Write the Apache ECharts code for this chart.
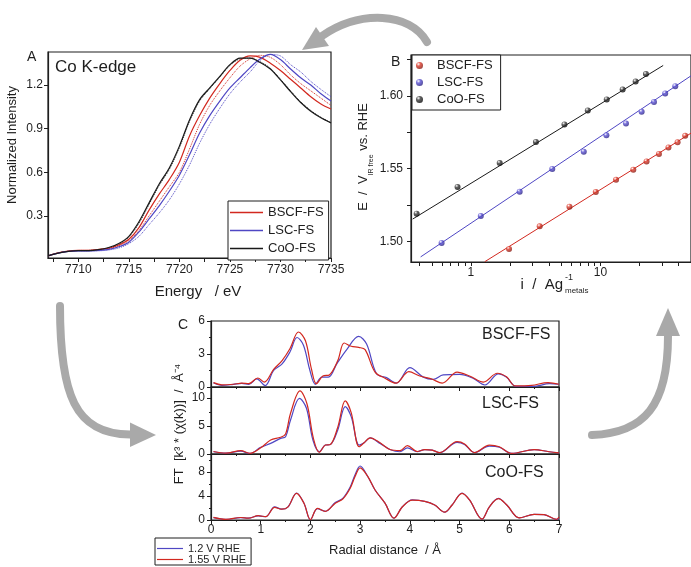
<!DOCTYPE html>
<html>
<head>
<meta charset="utf-8">
<script src="https://cdn.jsdelivr.net/npm/echarts@6/dist/echarts.min.js"></script>
<style>
  html, body { margin: 0; padding: 0; background: #fff; }
  #chart { width: 691px; height: 567px; }
</style>
</head>
<body>
<div id="chart"></div>
<script>
// ---------- Panel A: Co K-edge XANES (solid / dotted = two potentials) ----------
const energy = [7707, 7708, 7709, 7710, 7711, 7712, 7713, 7714, 7715, 7716, 7717, 7718, 7719, 7720,
  7721, 7722, 7723, 7724, 7725, 7726, 7727, 7728, 7729, 7730, 7731, 7732, 7733, 7734, 7735];
const xanesBSCF    = [.026, .046, .058, .063, .064, .070, .078, .100, .140, .220, .340, .450, .550, .670,
  .850, .990, 1.11, 1.21, 1.30, 1.37, 1.40, 1.39, 1.35, 1.30, 1.24, 1.18, 1.12, 1.07, 1.035];
const xanesBSCFdot = [.026, .046, .058, .063, .064, .069, .075, .095, .130, .200, .300, .400, .500, .600,
  .760, .930, 1.06, 1.16, 1.25, 1.33, 1.38, 1.404, 1.39, 1.34, 1.27, 1.21, 1.16, 1.11, 1.06];
const xanesLSC     = [.026, .045, .056, .060, .060, .063, .070, .088, .120, .190, .280, .370, .470, .580,
  .720, .870, .990, 1.09, 1.18, 1.25, 1.32, 1.38, 1.41, 1.375, 1.31, 1.25, 1.20, 1.14, 1.09];
const xanesLSCdot  = [.026, .045, .055, .058, .058, .060, .066, .080, .110, .160, .240, .320, .410, .520,
  .650, .800, .930, 1.04, 1.14, 1.22, 1.29, 1.37, 1.41, 1.40, 1.34, 1.29, 1.225, 1.17, 1.12];
const xanesCoO     = [.026, .045, .057, .062, .062, .068, .083, .110, .160, .260, .390, .520, .630, .780,
  .960, 1.10, 1.18, 1.26, 1.34, 1.385, 1.385, 1.355, 1.31, 1.235, 1.155, 1.08, 1.02, .975, .94];
const xanesCoOdot  = [.026, .045, .057, .062, .062, .067, .080, .105, .155, .250, .380, .510, .620, .770,
  .950, 1.09, 1.175, 1.255, 1.335, 1.38, 1.385, 1.36, 1.315, 1.24, 1.16, 1.085, 1.025, .978, .94];
const energyLabels = [7710, 7715, 7720, 7725, 7730, 7735];
const energyTicks = [7707.5, 7710, 7712.5, 7715, 7717.5, 7720, 7722.5, 7725, 7727.5, 7730, 7732.5, 7735];
const intensityLabels = [0.3, 0.6, 0.9, 1.2];

// ---------- Panel B: Tafel plots ----------
const currentBSCF = [1.972, 3.40, 5.77, 9.21, 13.20, 17.94, 22.7, 28.3, 33.5, 39.4, 45.1];
const potentialBSCF = [1.4948, 1.5103, 1.5238, 1.5339, 1.5423, 1.5492, 1.5549, 1.5600, 1.5645, 1.5680, 1.5725];
const currentLSC = [0.595, 1.194, 2.382, 4.25, 7.44, 11.12, 15.75, 20.8, 25.9, 31.6, 37.8];
const potentialLSC = [1.4989, 1.5174, 1.5341, 1.5497, 1.5616, 1.5728, 1.5810, 1.5890, 1.5957, 1.6016, 1.6066];
const currentCoO = [0.382, 0.790, 1.671, 3.18, 5.28, 7.99, 11.19, 14.85, 18.70, 22.45];
const potentialCoO = [1.519, 1.5373, 1.5538, 1.5682, 1.5803, 1.5899, 1.5975, 1.6043, 1.6098, 1.6149];
// linear fits (E vs log i), end points
const fitCurrentBSCF = [1.281, 50];   const fitPotentialBSCF = [1.486, 1.5743];
const fitCurrentLSC  = [0.41, 50];    const fitPotentialLSC  = [1.4893, 1.6137];
const fitCurrentCoO  = [0.356, 30.5]; const fitPotentialCoO  = [1.5153, 1.6208];
const currentLabels = [1, 10];
const currentTicks = [0.4, 0.5, 0.6, 0.7, 0.8, 0.9, 1, 2, 3, 4, 5, 6, 7, 8, 9, 10, 20, 30, 40];
const potentialLabels = [1.50, 1.55, 1.60];
const potentialTicks = [1.50, 1.525, 1.55, 1.575, 1.60, 1.625];

// ---------- Panel C: Fourier-transformed EXAFS, [R (Å), |FT|] ----------
const ftBSCF12 = [[0.05,0.39],[0.22,0.15],[0.45,0.24],[0.62,0.33],[0.76,0.24],[0.92,0.73],[1.09,0.12],
  [1.26,1.5],[1.43,2.1],[1.59,3.2],[1.73,4.5],[1.86,3.8],[1.99,1.5],[2.1,0.24],[2.23,0.9],[2.36,0.9],
  [2.53,2.1],[2.73,3.4],[2.97,4.6],[3.13,3.9],[3.33,1.2],[3.53,0.85],[3.73,0.36],[4.0,1.76],[4.27,0.9],
  [4.47,0.7],[4.67,1.1],[5.0,1.15],[5.27,0.8],[5.51,0.18],[5.78,1.2],[5.94,0.9],[6.14,0.05],[6.48,0.05],
  [6.81,0.3],[7.0,0.25]];
const ftBSCF155 = [[0.05,0.4],[0.22,0.2],[0.45,0.25],[0.62,0.35],[0.76,0.3],[0.94,0.82],[1.07,0.45],
  [1.26,1.6],[1.43,2.4],[1.59,3.5],[1.76,5.0],[1.9,4.2],[2.02,1.65],[2.12,0.3],[2.25,1.0],[2.38,1.1],
  [2.55,2.4],[2.68,4.0],[2.82,3.7],[2.97,3.6],[3.1,3.4],[3.3,1.35],[3.5,0.8],[3.72,0.35],[3.98,1.4],
  [4.2,1.0],[4.45,0.7],[4.65,0.35],[4.95,1.35],[5.2,1.0],[5.48,0.45],[5.76,1.25],[5.95,0.9],[6.12,0.1],
  [6.45,0.15],[6.78,0.4],[7.0,0.25]];
const ftLSC12 = [[0.05,0.4],[0.3,0.15],[0.6,0.5],[0.78,0.1],[1.0,1.2],[1.2,1.9],[1.4,2.8],[1.5,3.1],
  [1.6,6.1],[1.78,9.95],[1.92,8.2],[2.05,2.5],[2.18,0.4],[2.3,1.6],[2.4,1.7],[2.55,4.3],[2.7,8.5],
  [2.82,6.7],[2.98,1.6],[3.08,2.0],[3.2,2.9],[3.4,1.9],[3.6,0.8],[3.8,0.4],[3.95,1.1],[4.15,0.4],
  [4.3,0.8],[4.45,0.7],[4.6,0.25],[4.95,2.1],[5.1,1.7],[5.3,0.25],[5.6,1.4],[5.8,1.2],[6.05,0.1],
  [6.5,0.8],[6.8,0.4],[7.0,0.2]];
const ftLSC155 = [[0.05,0.45],[0.3,0.15],[0.6,0.6],[0.78,0.1],[1.0,1.1],[1.2,2.5],[1.4,3.0],[1.5,3.6],
  [1.6,7.3],[1.79,11.3],[1.93,9.0],[2.06,2.8],[2.18,0.3],[2.3,1.6],[2.4,1.7],[2.55,4.8],[2.7,9.5],
  [2.82,7.4],[2.98,1.3],[3.08,2.0],[3.2,2.9],[3.4,2.0],[3.6,0.8],[3.8,0.6],[3.95,1.5],[4.15,0.45],
  [4.3,0.8],[4.45,0.7],[4.6,0.25],[4.95,2.2],[5.1,1.8],[5.3,0.25],[5.6,1.6],[5.8,1.3],[6.05,0.1],
  [6.5,0.8],[6.8,0.4],[7.0,0.2]];
const ftCoO12 = [[0.05,0.4],[0.3,0.1],[0.6,0.4],[0.75,0.3],[0.95,0.7],[1.1,0.55],[1.28,2.2],[1.42,1.8],
  [1.55,2.2],[1.72,4.5],[1.87,2.8],[2.0,0.05],[2.14,1.9],[2.3,1.45],[2.5,2.9],[2.65,3.6],[2.8,5.5],
  [2.9,7.6],[3.0,9.0],[3.15,7.3],[3.3,5.0],[3.5,2.8],[3.68,0.3],[3.85,2.2],[4.05,3.35],[4.3,3.1],
  [4.5,2.5],[4.7,1.3],[4.85,2.5],[5.05,4.5],[5.2,3.35],[5.45,0.15],[5.6,2.2],[5.78,3.6],[5.95,2.5],
  [6.2,0.35],[6.5,0.95],[6.7,0.9],[6.95,0.1],[7.0,0.3]];
const ftCoO155 = [[0.05,0.45],[0.3,0.12],[0.6,0.42],[0.75,0.3],[0.95,0.72],[1.1,0.55],[1.28,2.1],[1.42,1.8],
  [1.55,2.2],[1.72,4.45],[1.87,2.8],[2.0,0.05],[2.14,1.95],[2.3,1.45],[2.5,2.8],[2.65,3.5],[2.8,5.3],
  [2.9,7.3],[3.0,8.7],[3.15,7.3],[3.3,5.0],[3.5,2.8],[3.68,0.3],[3.85,2.2],[4.05,3.3],[4.3,3.1],
  [4.5,2.5],[4.7,1.3],[4.85,2.5],[5.05,4.45],[5.2,3.35],[5.45,0.15],[5.6,2.2],[5.78,3.55],[5.95,2.5],
  [6.2,0.35],[6.5,0.95],[6.7,0.9],[6.95,0.1],[7.0,0.5]];

// ---------- styling ----------
const FONT = 'Liberation Sans, Arial, Helvetica, sans-serif';
const INK = '#1e1e1e';
const RED = '#d2281f';
const BLUE = '#4f47c4';
const BLACK = '#1a1a1a';
const ARROW = '#a9a9a9';

const pairs = (xs, ys) => xs.map((x, i) => [x, ys[i]]);
const ball = (c, dark) => ({
  type: 'radial', x: 0.35, y: 0.3, r: 0.8,
  colorStops: [{ offset: 0, color: '#ffffff' }, { offset: 0.35, color: c }, { offset: 1, color: dark }]
});

const gridBase = { show: true, borderColor: INK, borderWidth: 1.2, containLabel: false };
const axisLine = { show: true, lineStyle: { color: INK, width: 1.2 } };
const tickStyle = { color: INK, width: 1 };
const labelBase = { color: INK, fontSize: 12, fontFamily: FONT };

function xanes(name, data, color, dotted) {
  return {
    type: 'line', name, xAxisIndex: 0, yAxisIndex: 0, data: pairs(energy, data),
    symbol: 'none', smooth: 0.3, color,
    lineStyle: { color, width: dotted ? 1 : 1.2, type: dotted ? 'dotted' : 'solid' },
    z: dotted ? 2 : 3
  };
}
function tafelPts(name, xs, ys, c, dark) {
  return {
    type: 'scatter', name, xAxisIndex: 1, yAxisIndex: 1, data: pairs(xs, ys),
    symbol: 'circle', symbolSize: 6, itemStyle: { color: ball(c, dark) }, z: 4
  };
}
function tafelFit(name, xs, ys, c) {
  return {
    type: 'line', name, xAxisIndex: 1, yAxisIndex: 1, data: pairs(xs, ys),
    symbol: 'none', lineStyle: { color: c, width: 1 }, z: 3
  };
}
function ft(name, idx, data, color) {
  return {
    type: 'line', name, xAxisIndex: idx, yAxisIndex: idx, data,
    symbol: 'none', smooth: 0.35, color, lineStyle: { color, width: 1.2 }
  };
}
function ftX(gridIndex, showLabels) {
  return {
    type: 'value', gridIndex, min: 0, max: 7, interval: 1,
    axisLine, splitLine: { show: false },
    axisTick: { show: true, inside: false, length: 4, lineStyle: tickStyle },
    minorTick: { show: true, splitNumber: 2, length: 2, lineStyle: tickStyle },
    axisLabel: Object.assign({ show: showLabels, margin: 4 }, labelBase)
  };
}
function ftY(gridIndex, max, interval) {
  return {
    type: 'value', gridIndex, min: 0, max, interval,
    axisLine, splitLine: { show: false },
    axisTick: { show: true, inside: false, length: 4, lineStyle: tickStyle },
    minorTick: { show: true, splitNumber: 2, length: 2, lineStyle: tickStyle },
    axisLabel: Object.assign({ margin: 6, showMaxLabel: max % interval === 0 }, labelBase)
  };
}

const option = {
  animation: false,
  backgroundColor: '#ffffff',
  textStyle: { fontFamily: FONT, color: INK },
  grid: [
    Object.assign({ left: 48, top: 52, width: 283, height: 206 }, gridBase),
    Object.assign({ left: 411, top: 55, right: -1, height: 207 }, gridBase),
    Object.assign({ left: 211, top: 321, width: 348, height: 66 }, gridBase),
    Object.assign({ left: 211, top: 387, width: 348, height: 67 }, gridBase),
    Object.assign({ left: 211, top: 454, width: 348, height: 66 }, gridBase)
  ],
  xAxis: [
    {
      type: 'value', gridIndex: 0, min: 7707, max: 7735, axisLine, splitLine: { show: false },
      axisTick: { show: true, length: 4, lineStyle: tickStyle, customValues: energyTicks },
      axisLabel: Object.assign({ margin: 6, customValues: energyLabels, formatter: v => String(v) }, labelBase)
    },
    {
      type: 'log', logBase: 10, gridIndex: 1, min: 0.3455, max: 50, axisLine, splitLine: { show: false },
      axisTick: { show: true, length: 4, lineStyle: tickStyle, customValues: currentTicks },
      axisLabel: Object.assign({ margin: 5, customValues: currentLabels, formatter: v => String(v) }, labelBase)
    },
    ftX(2, false), ftX(3, false), ftX(4, true)
  ],
  yAxis: [
    {
      type: 'value', gridIndex: 0, min: 0.011, max: 1.427, axisLine, splitLine: { show: false },
      axisTick: { show: true, length: 4, lineStyle: tickStyle, customValues: intensityLabels },
      axisLabel: Object.assign({ margin: 5, customValues: intensityLabels, formatter: v => v.toFixed(1) }, labelBase)
    },
    {
      type: 'value', gridIndex: 1, min: 1.4858, max: 1.628, axisLine, splitLine: { show: false },
      axisTick: { show: true, length: 4, lineStyle: tickStyle, customValues: potentialTicks },
      axisLabel: Object.assign({ margin: 8, customValues: potentialLabels, formatter: v => v.toFixed(2) }, labelBase)
    },
    ftY(2, 6, 3), ftY(3, 12, 5), ftY(4, 11, 4)
  ],
  legend: [
    {
      data: ['BSCF-FS', 'LSC-FS', 'CoO-FS'], orient: 'vertical', left: 228, top: 201,
      icon: 'rect', itemWidth: 33, itemHeight: 1.5, itemGap: 3, padding: [4, 5, 4, 2],
      borderColor: INK, borderWidth: 1, backgroundColor: '#fff',
      textStyle: { fontSize: 13, color: INK, fontFamily: FONT, lineHeight: 15 },
      selectedMode: false
    },
    {
      data: ['BSCF-FS · Tafel', 'LSC-FS · Tafel', 'CoO-FS · Tafel'], orient: 'vertical', left: 412, top: 55,
      icon: 'circle', itemWidth: 25, itemHeight: 7, itemGap: 2, padding: [3, 8, 3, 4],
      borderColor: INK, borderWidth: 1, backgroundColor: '#fff',
      formatter: n => n.split(' · ')[0],
      textStyle: { fontSize: 13, color: INK, fontFamily: FONT, lineHeight: 15 },
      selectedMode: false
    },
    {
      data: ['1.2 V RHE', '1.55 V RHE'], orient: 'vertical', left: 155, top: 538,
      icon: 'rect', itemWidth: 26, itemHeight: 1.2, itemGap: 0, padding: [5, 5, 0, 2],
      borderColor: INK, borderWidth: 1, backgroundColor: '#fff',
      textStyle: { fontSize: 11, color: INK, fontFamily: FONT, lineHeight: 10.5 },
      selectedMode: false
    }
  ],
  series: [
    xanes('BSCF-FS', xanesBSCF, RED, false),
    xanes('BSCF-FS dotted', xanesBSCFdot, RED, true),
    xanes('LSC-FS', xanesLSC, BLUE, false),
    xanes('LSC-FS dotted', xanesLSCdot, BLUE, true),
    xanes('CoO-FS', xanesCoO, BLACK, false),
    xanes('CoO-FS dotted', xanesCoOdot, BLACK, true),

    tafelFit('BSCF-FS fit', fitCurrentBSCF, fitPotentialBSCF, RED),
    tafelFit('LSC-FS fit', fitCurrentLSC, fitPotentialLSC, BLUE),
    tafelFit('CoO-FS fit', fitCurrentCoO, fitPotentialCoO, BLACK),
    tafelPts('BSCF-FS · Tafel', currentBSCF, potentialBSCF, '#de3b2c', '#7a140c'),
    tafelPts('LSC-FS · Tafel', currentLSC, potentialLSC, '#5b52d4', '#221a78'),
    tafelPts('CoO-FS · Tafel', currentCoO, potentialCoO, '#3a3a3a', '#000000'),

    ft('1.2 V RHE', 2, ftBSCF12, BLUE),
    ft('1.55 V RHE', 2, ftBSCF155, RED),
    ft('1.2 V RHE', 3, ftLSC12, BLUE),
    ft('1.55 V RHE', 3, ftLSC155, RED),
    ft('1.2 V RHE', 4, ftCoO12, BLUE),
    ft('1.55 V RHE', 4, ftCoO155, RED)
  ],
  graphic: [
    // curved process arrows
    { type: 'bezierCurve', shape: { x1: 427, y1: 42, cpx1: 410, cpy1: 12, cpx2: 360, cpy2: 10, x2: 322, y2: 36 },
      style: { stroke: ARROW, lineWidth: 8, lineCap: 'round', fill: null } },
    { type: 'polygon', shape: { points: [[302, 50], [316, 27], [329, 46]] }, style: { fill: ARROW } },
    { type: 'bezierCurve', shape: { x1: 60, y1: 306, cpx1: 60, cpy1: 395, cpx2: 75, cpy2: 434, x2: 130, y2: 434.5 },
      style: { stroke: ARROW, lineWidth: 8, lineCap: 'round', fill: null } },
    { type: 'polygon', shape: { points: [[156, 435], [130, 422.5], [130, 447]] }, style: { fill: ARROW } },
    { type: 'bezierCurve', shape: { x1: 592, y1: 435, cpx1: 645, cpy1: 433, cpx2: 668, cpy2: 405, x2: 668, y2: 336 },
      style: { stroke: ARROW, lineWidth: 8, lineCap: 'round', fill: null } },
    { type: 'polygon', shape: { points: [[668, 308], [656, 336], [680, 336]] }, style: { fill: ARROW } },

    // panel letters and captions
    { type: 'text', x: 27, y: 57, style: { text: 'A', font: '14px ' + FONT, fill: INK, verticalAlign: 'middle' } },
    { type: 'text', x: 391, y: 62, style: { text: 'B', font: '14px ' + FONT, fill: INK, verticalAlign: 'middle' } },
    { type: 'text', x: 178, y: 325, style: { text: 'C', font: '14px ' + FONT, fill: INK, verticalAlign: 'middle' } },
    { type: 'text', x: 55, y: 67, style: { text: 'Co K-edge', font: '17px ' + FONT, fill: INK, verticalAlign: 'middle' } },
    { type: 'text', x: 482, y: 335, style: { text: 'BSCF-FS', font: '16px ' + FONT, fill: INK, verticalAlign: 'middle' } },
    { type: 'text', x: 482, y: 404, style: { text: 'LSC-FS', font: '16px ' + FONT, fill: INK, verticalAlign: 'middle' } },
    { type: 'text', x: 485, y: 473, style: { text: 'CoO-FS', font: '16px ' + FONT, fill: INK, verticalAlign: 'middle' } },

    // axis titles
    { type: 'text', x: 12, y: 145, rotation: Math.PI / 2,
      style: { text: 'Normalized Intensity', font: '13px ' + FONT, fill: INK, align: 'center', verticalAlign: 'middle' } },
    { type: 'text', x: 198, y: 292,
      style: { text: 'Energy   / eV', font: '15px ' + FONT, fill: INK, align: 'center', verticalAlign: 'middle' } },
    { type: 'text', x: 366, y: 157, rotation: Math.PI / 2,
      style: {
        text: '{a|E  /  V}{s|IR free}{a| vs. RHE}', align: 'center', verticalAlign: 'middle',
        rich: {
          a: { font: '13px ' + FONT, fill: INK, lineHeight: 18, verticalAlign: 'top' },
          s: { font: '7px ' + FONT, fill: INK, lineHeight: 8, verticalAlign: 'bottom' }
        }
      } },
    { type: 'text', x: 563, y: 285,
      style: { text: 'i  /  Ag', font: '15px ' + FONT, fill: INK, align: 'right', verticalAlign: 'middle' } },
    { type: 'text', x: 565, y: 278,
      style: { text: '-1', font: '9px ' + FONT, fill: INK, align: 'left', verticalAlign: 'middle' } },
    { type: 'text', x: 565, y: 291,
      style: { text: 'metals', font: '8px ' + FONT, fill: INK, align: 'left', verticalAlign: 'middle' } },
    { type: 'text', x: 179, y: 424, rotation: Math.PI / 2,
      style: { text: 'FT  [k³ * (χ(k))]  /  Å⁻⁴', font: '13px ' + FONT, fill: INK, align: 'center', verticalAlign: 'middle' } },
    { type: 'text', x: 385, y: 550,
      style: { text: 'Radial distance  / Å', font: '13px ' + FONT, fill: INK, align: 'center', verticalAlign: 'middle' } }
  ]
};

const chart = echarts.init(document.getElementById('chart'), null, { renderer: 'canvas' });
chart.setOption(option);
</script>
</body>
</html>
